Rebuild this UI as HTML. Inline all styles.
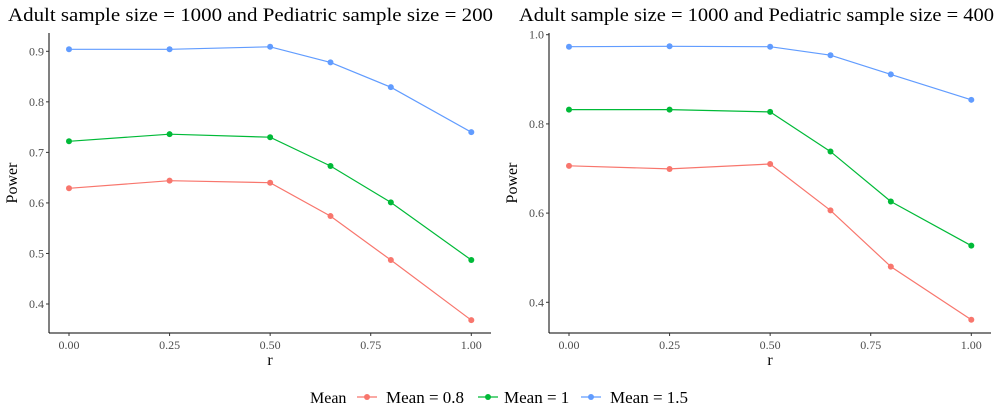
<!DOCTYPE html>
<html><head><meta charset="utf-8"><style>
html,body{margin:0;padding:0;background:#fff;}
svg{display:block;font-family:"Liberation Serif",serif;}
svg text{font-family:"Liberation Serif",serif;}
</style></head><body>
<svg id="c" width="1000" height="417" viewBox="0 0 1000 417">
<g>
<text x="310" y="403" font-size="16">Mean</text>
<g><line x1="357" x2="377" y1="397" y2="397" stroke="#F8766D" stroke-width="1.2"/><circle cx="367" cy="397" r="3" fill="#F8766D"/><text x="386" y="403" font-size="17">Mean = 0.8</text></g>
<g><line x1="478" x2="498" y1="397" y2="397" stroke="#00BA38" stroke-width="1.2"/><circle cx="488" cy="397" r="3" fill="#00BA38"/><text x="504" y="403" font-size="17">Mean = 1</text></g>
<g><line x1="581" x2="601" y1="397" y2="397" stroke="#619CFF" stroke-width="1.2"/><circle cx="591" cy="397" r="3" fill="#619CFF"/><text x="610" y="403" font-size="17">Mean = 1.5</text></g>
</g>
</svg>
<script>
const rVals = [0, 0.25, 0.5, 0.65, 0.8, 1.0];
const seriesNames = ["Mean = 0.8", "Mean = 1", "Mean = 1.5"];
const colors = ["#F8766D", "#00BA38", "#619CFF"];
const xTicks = [0, 0.25, 0.5, 0.75, 1.0];
const xTickLabels = ["0.00", "0.25", "0.50", "0.75", "1.00"];
const leftTitle = "Adult sample size = 1000 and Pediatric sample size = 200";
const rightTitle = "Adult sample size = 1000 and Pediatric sample size = 400";
const left08 = [0.629, 0.644, 0.640, 0.574, 0.487, 0.368];
const left1 = [0.722, 0.736, 0.730, 0.673, 0.601, 0.487];
const left15 = [0.904, 0.904, 0.909, 0.878, 0.829, 0.740];
const leftYTicks = [0.4, 0.5, 0.6, 0.7, 0.8, 0.9];
const leftYLabels = ["0.4", "0.5", "0.6", "0.7", "0.8", "0.9"];
const right08 = [0.706, 0.699, 0.710, 0.606, 0.480, 0.361];
const right1 = [0.832, 0.832, 0.827, 0.738, 0.626, 0.527];
const right15 = [0.973, 0.974, 0.973, 0.954, 0.911, 0.854];
const rightYTicks = [0.4, 0.6, 0.8, 1.0];
const rightYLabels = ["0.4", "0.6", "0.8", "1.0"];

const svg = document.getElementById('c');
const NS = "http://www.w3.org/2000/svg";
function mk(tag, attrs, parent){const e=document.createElementNS(NS,tag);for(const k in attrs)e.setAttribute(k,attrs[k]);(parent||svg).appendChild(e);return e;}

function panel(p){
  const g = mk('g',{});
  
  
  const xs = v => p.x0 + (v - 0) * (p.x1 - p.x0);
  const ys = v => p.yA + (v - p.vA) * (p.yB - p.yA) / (p.vB - p.vA);
  const t = mk('text',{x:p.titleX,y:21,'font-size':19,fill:'#000',textLength:p.titleW,lengthAdjust:'spacingAndGlyphs'},g);
  t.textContent = p.title;
  
  
  const ax = mk('line',{x1:p.axX,x2:p.axX,y1:p.top,y2:p.bottom,stroke:'#000','stroke-width':1},g);
  
  
  const bx = mk('line',{x1:p.axX,x2:p.right,y1:p.bottom,y2:p.bottom,stroke:'#000','stroke-width':1},g);
  
  
  p.yTicks.forEach((v,i)=>{
    const y = ys(v);
    mk('line',{x1:p.axX-3,x2:p.axX,y1:y,y2:y,stroke:'#333'},g);
    const l = mk('text',{x:p.axX-5,y:y+4,'font-size':12,'text-anchor':'end',fill:'#4d4d4d'},g);
    l.textContent = p.yLabels[i];
    
    
  });
  xTicks.forEach((v,i)=>{
    const x = xs(v);
    mk('line',{x1:x,x2:x,y1:p.bottom,y2:p.bottom+3,stroke:'#333'},g);
    const l = mk('text',{x:x,y:p.bottom+16,'font-size':12,'text-anchor':'middle',fill:'#4d4d4d'},g);
    l.textContent = xTickLabels[i];
    
    
  });
  const xt = mk('text',{x:(p.axX+p.right)/2,y:p.bottom+32,'font-size':16,'text-anchor':'middle'},g);
  xt.textContent = 'r';
  
  
  const cy = (p.top+p.bottom)/2;
  const yt = mk('text',{x:p.axX-32,y:cy,'font-size':16,'text-anchor':'middle',transform:`rotate(-90 ${p.axX-32} ${cy})`},g);
  yt.textContent = 'Power';
  
  
  p.series.forEach((vals,si)=>{
    const pts = vals.map((v,i)=>xs(rVals[i]).toFixed(1)+','+ys(v).toFixed(1)).join(' ');
    const pl = mk('polyline',{points:pts,fill:'none',stroke:colors[si],'stroke-width':1.2},g);
    
    
    vals.forEach((v,i)=>{
      const c = mk('circle',{cx:xs(rVals[i]),cy:ys(v),r:3,fill:colors[si]},g);
      
      
    });
  });
}
panel({name:'left-panel',title:leftTitle,titleX:8,titleW:485,axX:49,right:491,top:33,bottom:333,x0:69,x1:471.3,
  vA:0.9,yA:51.3,vB:0.4,yB:304,yTicks:leftYTicks,yLabels:leftYLabels,series:[left08,left1,left15]});
panel({name:'right-panel',title:rightTitle,titleX:519,titleW:475,axX:549,right:991,top:33,bottom:333,x0:569,x1:971.3,
  vA:1.0,yA:34.7,vB:0.4,yB:302.3,yTicks:rightYTicks,yLabels:rightYLabels,series:[right08,right1,right15]});
</script>
</body></html>
